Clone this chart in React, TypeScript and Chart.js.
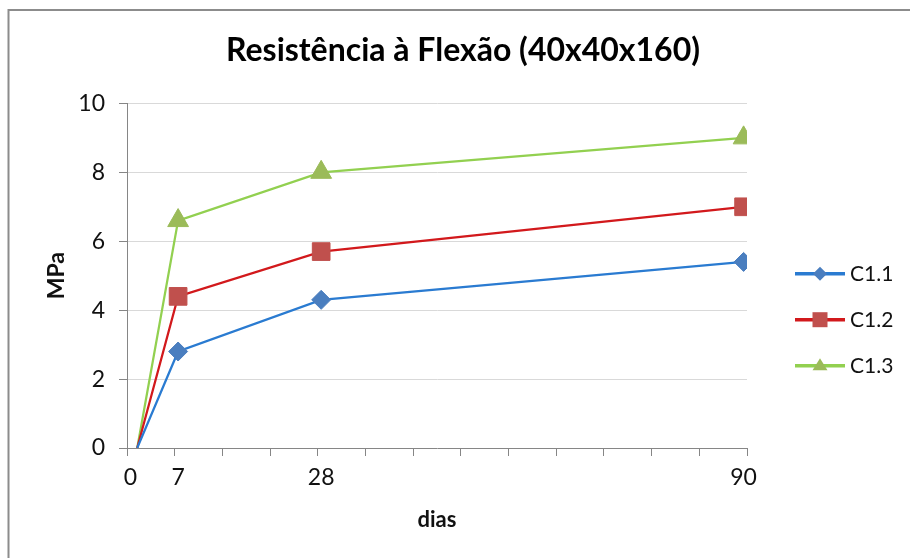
import React, { useEffect, useRef } from 'react';
import { Chart, registerables } from 'chart.js';

Chart.register(...registerables);

// ---- data ----
const days = [1, 7, 28, 90];
const xTickLabels = [0, 7, 28, 90];
const xMajorStep = 7;
const xMin = -0.5;
const xMax = 90.5;
const seriesNames = ['C1.1', 'C1.2', 'C1.3'];
const c11 = [0, 2.8, 4.3, 5.4];
const c12 = [0, 4.4, 5.7, 7.0];
const c13 = [0, 6.6, 8.0, 9.0];
const yMin = 0;
const yMax = 10;
const yStep = 2;

const titleText = 'Resistência à Flexão (40x40x160)';
const xTitle = 'dias';
const yTitle = 'MPa';

// ---- styles ----
const FONT = 'Lato';
const lineColors = ['#2A7BD1', '#D2191C', '#92D050'];
const markerColors = ['#4A7EBF', '#C0504D', '#9BBB59'];
const markerStyles = ['rectRot', 'rect', 'triangle'];
const markerRadius = [9.5, 12.5, 12];
const AXIS = '#868686';
const GRID = '#D9D9D9';
const TEXT = '#111111';

function drawMarker(ctx: CanvasRenderingContext2D, style: string, x: number, y: number, s: number) {
  ctx.beginPath();
  if (style === 'rectRot') {
    ctx.moveTo(x, y - s);
    ctx.lineTo(x + s, y);
    ctx.lineTo(x, y + s);
    ctx.lineTo(x - s, y);
    ctx.closePath();
  } else if (style === 'rect') {
    ctx.rect(x - s, y - s, 2 * s, 2 * s);
  } else {
    ctx.moveTo(x, y - s);
    ctx.lineTo(x + s, y + s * 0.6);
    ctx.lineTo(x - s, y + s * 0.6);
    ctx.closePath();
  }
  ctx.fill();
}

const framePlugin = {
  id: 'frame',
  beforeDraw(chart: any) {
    const { ctx, width, height } = chart;
    ctx.save();
    ctx.fillStyle = '#ffffff';
    ctx.fillRect(0, 0, width, height);
    ctx.strokeStyle = '#8C8C8C';
    ctx.lineWidth = 2;
    ctx.beginPath();
    ctx.moveTo(width, 10);
    ctx.lineTo(8.5, 10);
    ctx.lineTo(8.5, height);
    ctx.stroke();
    ctx.restore();
  },
};

const legendPlugin = {
  id: 'sideLegend',
  afterDraw(chart: any) {
    const { ctx, chartArea } = chart;
    const lineStart = chartArea.right + 48;
    const lineEnd = lineStart + 50;
    const midY = (chartArea.top + chartArea.bottom) / 2 + 44;
    const gap = 46;
    ctx.save();
    chart.data.datasets.forEach((ds: any, i: number) => {
      const y = midY + (i - 1) * gap;
      ctx.strokeStyle = lineColors[i];
      ctx.lineWidth = 3.5;
      ctx.beginPath();
      ctx.moveTo(lineStart, y);
      ctx.lineTo(lineEnd, y);
      ctx.stroke();
      ctx.fillStyle = markerColors[i];
      drawMarker(ctx, markerStyles[i], (lineStart + lineEnd) / 2, y, i === 0 ? 7 : 7.5);
      ctx.fillStyle = TEXT;
      ctx.font = `21px ${FONT}`;
      ctx.textAlign = 'left';
      ctx.textBaseline = 'middle';
      ctx.fillText(ds.label, lineEnd + 5, y + 1);
    });
    ctx.restore();
  },
};

export default function App() {
  const ref = useRef<HTMLCanvasElement>(null);

  useEffect(() => {
    const canvas = ref.current;
    if (!canvas) return;
    const series = [c11, c12, c13];
    const datasets = series.map((vals, i) => ({
      label: seriesNames[i],
      data: days.map((d, j) => ({ x: d, y: vals[j] })),
      borderColor: lineColors[i],
      backgroundColor: markerColors[i],
      pointBackgroundColor: markerColors[i],
      pointBorderColor: markerColors[i],
      pointBorderWidth: 1,
      pointStyle: markerStyles[i],
      pointRadius: (ctx: any) => (ctx.dataIndex === 0 ? 0 : markerRadius[i]),
      borderWidth: 2.25,
      tension: 0,
      fill: false,
    }));

    const chart = new Chart(canvas, {
      type: 'line',
      data: { datasets },
      options: {
        responsive: false,
        animation: false,
        devicePixelRatio: 1,
        layout: { padding: { left: 16, right: 0, top: 0, bottom: 0 } },
        plugins: {
          legend: { display: false },
          tooltip: { enabled: false },
          title: {
            display: true,
            text: titleText,
            color: '#000',
            font: { family: FONT, size: 32, weight: 'bold' },
            padding: { top: 31, bottom: 34 },
          },
        },
        scales: {
          x: {
            type: 'linear',
            min: xMin,
            max: xMax,
            afterBuildTicks: (scale: any) => {
              const t: { value: number }[] = [];
              for (let v = xMin; v <= xMax + 1e-9; v += xMajorStep) t.push({ value: v });
              xTickLabels.forEach((l) => t.push({ value: l }));
              t.sort((a, b) => a.value - b.value);
              scale.ticks = t;
            },
            afterFit: (scale: any) => {
              scale.height = 110;
            },
            ticks: {
              autoSkip: false,
              maxRotation: 0,
              minRotation: 0,
              padding: 8,
              color: TEXT,
              font: { family: FONT, size: 23 },
              callback: (v: any) => (xTickLabels.includes(Number(v)) ? String(v) : ''),
            },
            grid: {
              drawOnChartArea: false,
              drawTicks: true,
              tickLength: 8,
              tickColor: (ctx: any) =>
                ctx.tick && xTickLabels.includes(ctx.tick.value) ? 'rgba(0,0,0,0)' : AXIS,
            },
            border: { display: true, color: AXIS, width: 1 },
            title: {
              display: true,
              text: xTitle,
              color: TEXT,
              font: { family: FONT, size: 22, weight: 'bold' },
              padding: { top: 0, bottom: 25 },
            },
          },
          y: {
            type: 'linear',
            min: yMin,
            max: yMax,
            afterFit: (scale: any) => {
              scale.width = 111;
            },
            ticks: {
              stepSize: yStep,
              padding: 14,
              color: TEXT,
              font: { family: FONT, size: 23 },
            },
            grid: {
              color: (ctx: any) => (ctx.tick && ctx.tick.value === 0 ? 'rgba(0,0,0,0)' : GRID),
              tickColor: AXIS,
              tickLength: 8,
              lineWidth: 1,
            },
            border: { display: true, color: AXIS, width: 1 },
            title: {
              display: true,
              text: yTitle,
              color: TEXT,
              font: { family: FONT, size: 23, weight: 'bold' },
              padding: { top: 27, bottom: 0 },
            },
          },
          yr: {
            type: 'linear',
            position: 'right',
            display: true,
            grid: { display: false, drawTicks: false },
            ticks: { display: false },
            border: { display: false },
            afterFit: (scale: any) => {
              scale.width = 163;
            },
          },
        },
      } as any,
      plugins: [framePlugin, legendPlugin],
    });
    return () => chart.destroy();
  }, []);

  return (
    <div style={{ position: 'absolute', left: 0, top: 0, width: 910, height: 558, background: '#fff' }}>
      <canvas ref={ref} width={910} height={558} style={{ display: 'block', width: 910, height: 558 }} />
    </div>
  );
}
